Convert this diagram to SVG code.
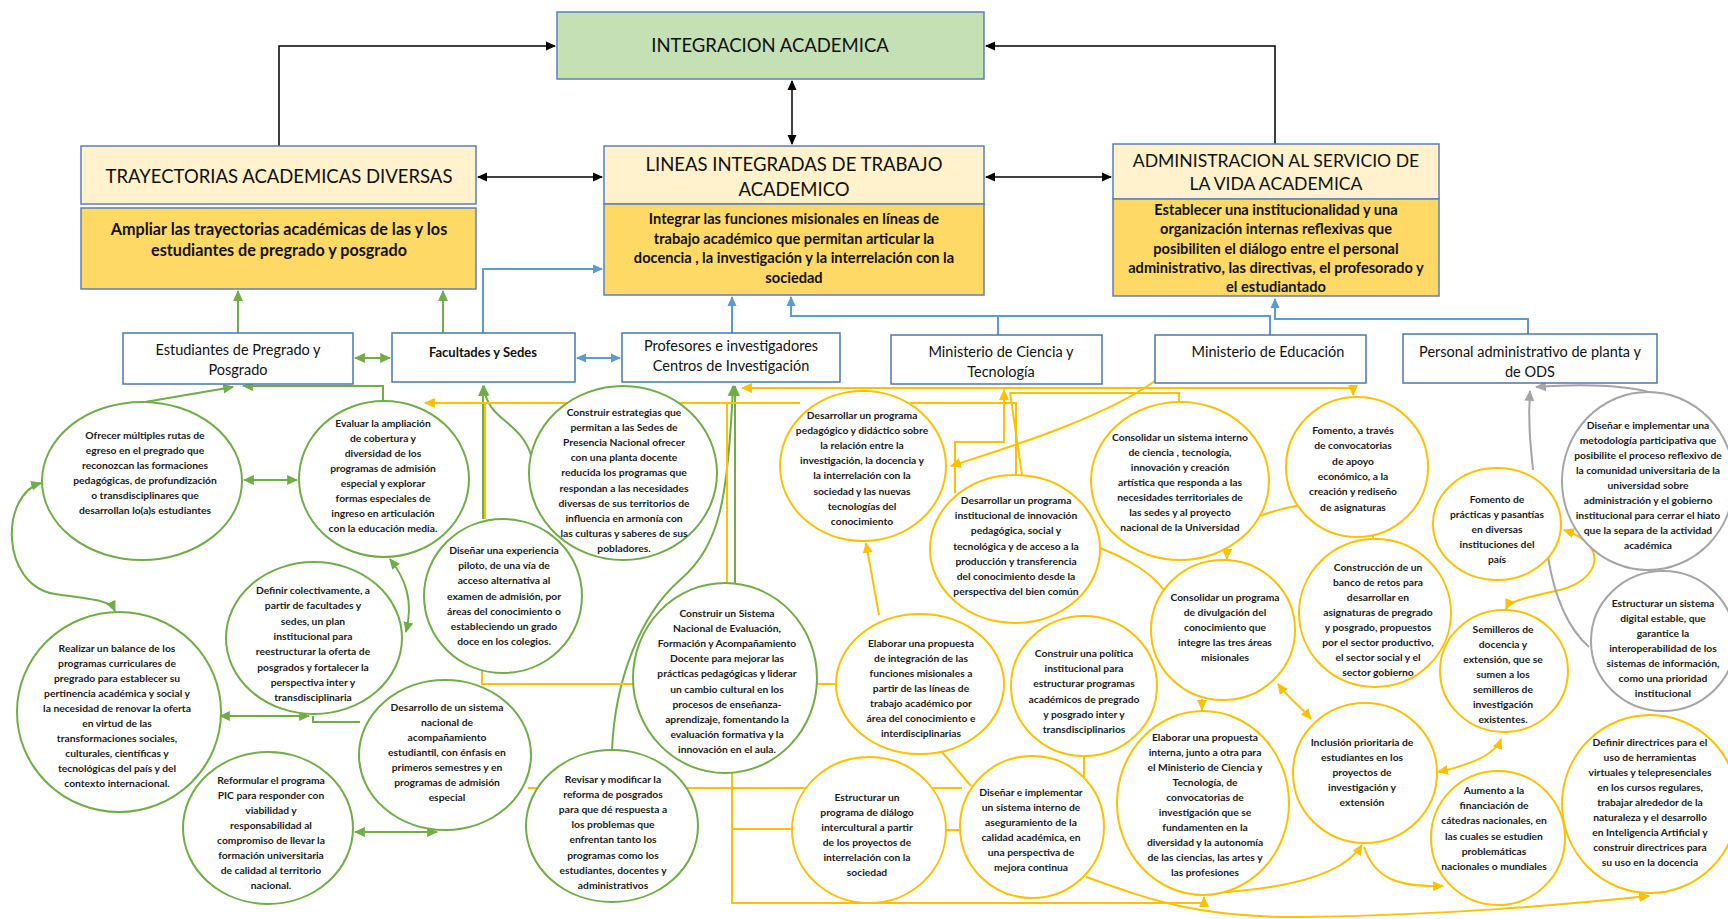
<svg xmlns="http://www.w3.org/2000/svg" width="1728" height="919" viewBox="0 0 1728 919">
<defs>
<marker id="ak" viewBox="0 0 10 10" refX="9" refY="5" markerWidth="10" markerHeight="10" markerUnits="userSpaceOnUse" orient="auto-start-reverse"><path d="M0,0.5 L10,5 L0,9.5 z" fill="#000"/></marker>
<marker id="ag" viewBox="0 0 10 10" refX="9" refY="5" markerWidth="11" markerHeight="11" markerUnits="userSpaceOnUse" orient="auto-start-reverse"><path d="M0,0.5 L10,5 L0,9.5 z" fill="#70AD47"/></marker>
<marker id="ay" viewBox="0 0 10 10" refX="9" refY="5" markerWidth="11" markerHeight="11" markerUnits="userSpaceOnUse" orient="auto-start-reverse"><path d="M0,0.5 L10,5 L0,9.5 z" fill="#FFC000"/></marker>
<marker id="ab" viewBox="0 0 10 10" refX="9" refY="5" markerWidth="10" markerHeight="10" markerUnits="userSpaceOnUse" orient="auto-start-reverse"><path d="M0,0.5 L10,5 L0,9.5 z" fill="#5B9BD5"/></marker>
<marker id="aa" viewBox="0 0 10 10" refX="9" refY="5" markerWidth="11" markerHeight="11" markerUnits="userSpaceOnUse" orient="auto-start-reverse"><path d="M0,0.5 L10,5 L0,9.5 z" fill="#A5A5A5"/></marker>
</defs>
<style>
.hd{fill:#FFF2CC;stroke:#5B80B8;stroke-width:1.5}
.sb{fill:#FFD966;stroke:#5B80B8;stroke-width:1.5}
.top{fill:#C5E0B4;stroke:#5B80B8;stroke-width:1.5}
.bx{fill:#fff;stroke:#4A78B0;stroke-width:1.5}
.cg{fill:#fff;stroke:#70AD47;stroke-width:2}
.cy{fill:#fff;stroke:#FFC000;stroke-width:2}
.ca{fill:#fff;stroke:#A5A5A5;stroke-width:2}
.ht{font-family:Lato,"Liberation Sans",sans-serif;font-size:18.5px;fill:#111;text-anchor:middle}
.st{font-family:Lato,"Liberation Sans",sans-serif;font-weight:700;font-size:14.6px;fill:#111;text-anchor:middle}
.bt{font-family:Lato,"Liberation Sans",sans-serif;font-size:14.5px;fill:#111;text-anchor:middle}
.ct{font-family:Lato,"Liberation Sans",sans-serif;font-weight:700;font-size:10.3px;fill:#1a1a1a;text-anchor:middle}
.lk{fill:none;stroke:#000;stroke-width:1.5}
.lb{fill:none;stroke:#5B9BD5;stroke-width:2}
.lg{fill:none;stroke:#70AD47;stroke-width:2}
.ly{fill:none;stroke:#FFC000;stroke-width:2}
.la{fill:none;stroke:#A5A5A5;stroke-width:2}
</style>

<g id="connectors">
<path class="lk" d="M279,146 V46 H555" marker-end="url(#ak)"/>
<path class="lk" d="M1275,144 V46 H986" marker-end="url(#ak)"/>
<path class="lk" d="M792,81 V144" marker-start="url(#ak)" marker-end="url(#ak)"/>
<path class="lk" d="M478,177 H602" marker-start="url(#ak)" marker-end="url(#ak)"/>
<path class="lk" d="M986,177 H1111" marker-start="url(#ak)" marker-end="url(#ak)"/>

<path class="lb" d="M483,333 V269 H602" marker-end="url(#ab)"/>
<path class="lb" d="M732,333 V297" marker-end="url(#ab)"/>
<path class="lb" d="M1270,335 V316 H791 V297" marker-end="url(#ab)"/>
<path class="lb" d="M998,335 V316"/>
<path class="lb" d="M1528,334 V319 H1275 V299" marker-end="url(#ab)"/>
<path class="lb" d="M577,358 H620" marker-start="url(#ab)" marker-end="url(#ab)"/>

<path class="lg" d="M238,333 V291" marker-end="url(#ag)"/>
<path class="lg" d="M443,333 V291" marker-end="url(#ag)"/>
<path class="lg" d="M355,358 H390" marker-start="url(#ag)" marker-end="url(#ag)"/>
<path class="lg" d="M145,402 L233,387" marker-end="url(#ag)"/>
<path class="lg" d="M383,401 V386 H243" marker-end="url(#ag)"/>
<path class="lg" d="M244,480 H297" marker-start="url(#ag)" marker-end="url(#ag)"/>
<path class="lg" d="M41,483 C0,495 0,585 55,594 C95,600 110,600 115,611" marker-start="url(#ag)" marker-end="url(#ag)"/>
<path class="lg" d="M390,559 C405,578 414,600 406,632" marker-start="url(#ag)" marker-end="url(#ag)"/>
<path class="lg" d="M220,716 H309" marker-start="url(#ag)" marker-end="url(#ag)"/>
<path class="lg" d="M313,716 V722 H360"/>
<path class="lg" d="M355,832 H437" marker-start="url(#ag)" marker-end="url(#ag)"/>
<path class="lg" d="M531,455 C520,420 486,420 484,386" marker-end="url(#ag)"/>
<path class="lg" d="M483,519 V386" marker-end="url(#ag)"/>
<path class="lg" d="M612,750 C615,680 640,615 680,580 C720,545 728,500 733,386" marker-end="url(#ag)"/>
<path class="lg" d="M735,583 V386" marker-end="url(#ag)"/>

<path class="ly" d="M800,403 H425" marker-end="url(#ay)"/>
<path class="ly" d="M485,403 V519"/>
<path class="ly" d="M727,583 V403"/>
<path class="ly" d="M742,388 H1353 V395" marker-start="url(#ay)" marker-end="url(#ay)"/>
<path class="ly" d="M910,403 H1016 V475"/>
<path class="ly" d="M1179,402 V393 H1010"/>
<path class="ly" d="M955,493 V442 H1004 V390" marker-end="url(#ay)"/>
<path class="ly" d="M1022,475 L1010,392"/>
<path class="ly" d="M1155,381 C1100,420 1000,450 951,466" marker-end="url(#ay)"/>
<path class="ly" d="M879,615 L866,543" marker-end="url(#ay)"/>
<path class="ly" d="M1227,548 V559" marker-end="url(#ay)"/>
<path class="ly" d="M1202,699 V710" marker-end="url(#ay)"/>
<path class="ly" d="M1100,548 C1130,560 1150,572 1164,590"/>
<path class="ly" d="M1257,517 C1270,512 1285,508 1300,505"/>
<path class="ly" d="M1373,536 V541"/>
<path class="ly" d="M1564,530 C1610,545 1600,580 1560,590 C1530,597 1510,600 1506,609" marker-start="url(#ay)" marker-end="url(#ay)"/>
<path class="ly" d="M1278,684 C1290,700 1300,706 1311,719" marker-start="url(#ay)" marker-end="url(#ay)"/>
<path class="ly" d="M1438,772 C1470,765 1495,755 1501,739" marker-start="url(#ay)" marker-end="url(#ay)"/>
<path class="ly" d="M1210,893 C1270,890 1340,880 1362,845" marker-end="url(#ay)"/>
<path class="ly" d="M1364,847 C1375,880 1400,887 1443,886" marker-end="url(#ay)"/>
<path class="ly" d="M1086,877 C1150,900 1200,918 1300,917 C1450,915 1560,905 1649,896" marker-end="url(#ay)"/>
<path class="ly" d="M732,773 V903 H1204 V897" marker-end="url(#ay)"/>
<path class="ly" d="M732,829 H792"/>
<path class="ly" d="M482,670 V684 H838"/>
<path class="ly" d="M528,788 H962"/>
<path class="ly" d="M942,752 L971,786"/>
<path class="ly" d="M946,830 H961"/>
<path class="ly" d="M1084,755 V777"/>

<path class="la" d="M1653,393 C1620,384 1580,384 1536,387" marker-end="url(#aa)"/>
<path class="la" d="M1533,470 C1530,440 1528,420 1530,391" marker-end="url(#aa)"/>
<path class="la" d="M1589,647 C1570,630 1555,600 1548,557"/>
</g>

<g id="integracion">
<rect class="top" x="557" y="12" width="427" height="67"/>
<text class="ht" x="770" y="52">INTEGRACION ACADEMICA</text>
</g>
<g id="trayectorias">
<rect class="hd" x="81" y="146" width="395" height="58"/>
<text class="ht" x="279" y="183">TRAYECTORIAS ACADEMICAS DIVERSAS</text>
<rect class="sb" x="81" y="208" width="395" height="81"/>
<text class="st" x="279" y="235" style="font-size:16.2px">Ampliar las trayectorias académicas de las y los<tspan x="279" dy="21">estudiantes de pregrado y posgrado</tspan></text>
</g>
<g id="lineas">
<rect class="hd" x="604" y="146" width="380" height="58"/>
<text class="ht" x="794" y="171">LINEAS INTEGRADAS DE TRABAJO<tspan x="794" dy="25">ACADEMICO</tspan></text>
<rect class="sb" x="604" y="204" width="380" height="91"/>
<text class="st" x="794" y="224">Integrar las funciones misionales en líneas de<tspan x="794" dy="19.5">trabajo académico que permitan articular la</tspan><tspan x="794" dy="19.5">docencia , la investigación  y la interrelación con la</tspan><tspan x="794" dy="19.5">sociedad</tspan></text>
</g>
<g id="administracion">
<rect class="hd" x="1113" y="144" width="326" height="55"/>
<text class="ht" x="1276" y="167" style="font-size:17.6px">ADMINISTRACION AL SERVICIO DE<tspan x="1276" dy="23">LA VIDA ACADEMICA</tspan></text>
<rect class="sb" x="1113" y="199" width="326" height="97"/>
<text class="st" x="1276" y="215">Establecer una institucionalidad y una<tspan x="1276" dy="19.3">organización internas reflexivas que</tspan><tspan x="1276" dy="19.3">posibiliten el diálogo entre el personal</tspan><tspan x="1276" dy="19.3">administrativo, las directivas, el profesorado y</tspan><tspan x="1276" dy="19.3">el estudiantado</tspan></text>
</g>

<g id="estudiantes"><rect class="bx" x="123" y="333" width="230" height="51"/><text class="bt" x="238" y="355">Estudiantes de Pregrado y<tspan x="238" dy="20">Posgrado</tspan></text></g>
<g id="facultades"><rect class="bx" x="392" y="333" width="183" height="49"/><text class="bt" x="483" y="357" style="font-size:13px;font-weight:700">Facultades y Sedes</text></g>
<g id="profesores"><rect class="bx" x="622" y="333" width="218" height="49"/><text class="bt" x="731" y="351">Profesores e investigadores<tspan x="731" dy="20">Centros de Investigación</tspan></text></g>
<g id="mciencia"><rect class="bx" x="891" y="335" width="211" height="49"/><text class="bt" x="1001" y="357">Ministerio de Ciencia y<tspan x="1001" dy="20">Tecnología</tspan></text></g>
<g id="meducacion"><rect class="bx" x="1155" y="335" width="211" height="48"/><text class="bt" x="1268" y="357">Ministerio de Educación</text></g>
<g id="personal"><rect class="bx" x="1403" y="334" width="254" height="49"/><text class="bt" x="1530" y="357">Personal administrativo de planta y<tspan x="1530" dy="20">de ODS</tspan></text></g>

<g id="c-ofrecer"><ellipse class="cg" cx="142" cy="481" rx="100" ry="79"/><text class="ct" x="145" y="439">Ofrecer múltiples rutas de<tspan x="145" dy="15">egreso en el pregrado que</tspan><tspan x="145" dy="15">reconozcan las formaciones</tspan><tspan x="145" dy="15">pedagógicas, de profundización</tspan><tspan x="145" dy="15">o transdisciplinares que</tspan><tspan x="145" dy="15">desarrollan lo(a)s estudiantes</tspan></text></g>
<g id="c-evaluar"><ellipse class="cg" cx="384" cy="479" rx="85" ry="78"/><text class="ct" x="383" y="427">Evaluar la ampliación<tspan x="383" dy="15">de cobertura y</tspan><tspan x="383" dy="15">diversidad de los</tspan><tspan x="383" dy="15">programas de admisión</tspan><tspan x="383" dy="15">especial y explorar</tspan><tspan x="383" dy="15">formas especiales de</tspan><tspan x="383" dy="15">ingreso en articulación</tspan><tspan x="383" dy="15">con la educación media.</tspan></text></g>
<g id="c-realizar"><ellipse class="cg" cx="119" cy="712" rx="102" ry="100"/><text class="ct" x="117" y="652">Realizar un balance de los<tspan x="117" dy="15">programas curriculares de</tspan><tspan x="117" dy="15">pregrado para establecer su</tspan><tspan x="117" dy="15">pertinencia académica y social y</tspan><tspan x="117" dy="15">la necesidad de renovar la oferta</tspan><tspan x="117" dy="15">en virtud de las</tspan><tspan x="117" dy="15">transformaciones sociales,</tspan><tspan x="117" dy="15">culturales, científicas y</tspan><tspan x="117" dy="15">tecnológicas del país y del</tspan><tspan x="117" dy="15">contexto internacional.</tspan></text></g>
<g id="c-definir"><ellipse class="cg" cx="314" cy="638" rx="88" ry="76"/><text class="ct" x="313" y="594">Definir colectivamente, a<tspan x="313" dy="15.3">partir de facultades y</tspan><tspan x="313" dy="15.3">sedes, un plan</tspan><tspan x="313" dy="15.3">institucional para</tspan><tspan x="313" dy="15.3">reestructurar la oferta de</tspan><tspan x="313" dy="15.3">posgrados y fortalecer la</tspan><tspan x="313" dy="15.3">perspectiva inter y</tspan><tspan x="313" dy="15.3">transdisciplinaria</tspan></text></g>
<g id="c-piloto"><ellipse class="cg" cx="503" cy="596" rx="79" ry="77"/><text class="ct" x="504" y="554">Diseñar una experiencia<tspan x="504" dy="15.2">piloto, de una vía de</tspan><tspan x="504" dy="15.2">acceso alternativa al</tspan><tspan x="504" dy="15.2">examen de admisión, por</tspan><tspan x="504" dy="15.2">áreas del conocimiento o</tspan><tspan x="504" dy="15.2">estableciendo un grado</tspan><tspan x="504" dy="15.2">doce en los colegios.</tspan></text></g>
<g id="c-sedes"><ellipse class="cg" cx="623" cy="473" rx="94" ry="87"/><text class="ct" x="624" y="416">Construir estrategias que<tspan x="624" dy="15.1">permitan a las Sedes de</tspan><tspan x="624" dy="15.1">Presencia Nacional ofrecer</tspan><tspan x="624" dy="15.1">con una planta docente</tspan><tspan x="624" dy="15.1">reducida los programas que</tspan><tspan x="624" dy="15.1">respondan a las necesidades</tspan><tspan x="624" dy="15.1">diversas de sus territorios de</tspan><tspan x="624" dy="15.1">influencia en armonía con</tspan><tspan x="624" dy="15.1">las culturas y saberes de sus</tspan><tspan x="624" dy="15.1">pobladores.</tspan></text></g>
<g id="c-sistema-docente"><ellipse class="cg" cx="725" cy="678" rx="92" ry="95"/><text class="ct" x="727" y="617">Construir un Sistema<tspan x="727" dy="15.1">Nacional de Evaluación,</tspan><tspan x="727" dy="15.1">Formación y Acompañamiento</tspan><tspan x="727" dy="15.1">Docente para mejorar las</tspan><tspan x="727" dy="15.1">prácticas pedagógicas y liderar</tspan><tspan x="727" dy="15.1">un cambio cultural en los</tspan><tspan x="727" dy="15.1">procesos de enseñanza-</tspan><tspan x="727" dy="15.1">aprendizaje, fomentando la</tspan><tspan x="727" dy="15.1">evaluación formativa y la</tspan><tspan x="727" dy="15.1">innovación en el aula.</tspan></text></g>
<g id="c-desarrollo"><ellipse class="cg" cx="445" cy="755" rx="86" ry="75"/><text class="ct" x="447" y="711">Desarrollo de un sistema<tspan x="447" dy="15">nacional de</tspan><tspan x="447" dy="15">acompañamiento</tspan><tspan x="447" dy="15">estudiantil, con énfasis en</tspan><tspan x="447" dy="15">primeros semestres y en</tspan><tspan x="447" dy="15">programas de admisión</tspan><tspan x="447" dy="15">especial</tspan></text></g>
<g id="c-pic"><ellipse class="cg" cx="268" cy="828" rx="85" ry="76"/><text class="ct" x="271" y="784">Reformular el programa<tspan x="271" dy="15">PIC para responder con</tspan><tspan x="271" dy="15">viabilidad y</tspan><tspan x="271" dy="15">responsabilidad al</tspan><tspan x="271" dy="15">compromiso de llevar la</tspan><tspan x="271" dy="15">formación universitaria</tspan><tspan x="271" dy="15">de calidad al territorio</tspan><tspan x="271" dy="15">nacional.</tspan></text></g>
<g id="c-revisar"><ellipse class="cg" cx="612" cy="826" rx="86" ry="76"/><text class="ct" x="613" y="783">Revisar y modificar la<tspan x="613" dy="15.1">reforma de posgrados</tspan><tspan x="613" dy="15.1">para que dé respuesta a</tspan><tspan x="613" dy="15.1">los problemas que</tspan><tspan x="613" dy="15.1">enfrentan tanto los</tspan><tspan x="613" dy="15.1">programas como los</tspan><tspan x="613" dy="15.1">estudiantes, docentes y</tspan><tspan x="613" dy="15.1">administrativos</tspan></text></g>

<g id="y-pedagogico"><ellipse class="cy" cx="863" cy="466" rx="83" ry="75"/><text class="ct" x="862" y="419">Desarrollar un programa<tspan x="862" dy="15.1">pedagógico y didáctico sobre</tspan><tspan x="862" dy="15.1">la relación entre la</tspan><tspan x="862" dy="15.1">investigación, la docencia y</tspan><tspan x="862" dy="15.1">la interrelación con la</tspan><tspan x="862" dy="15.1">sociedad y las nuevas</tspan><tspan x="862" dy="15.1">tecnologías del</tspan><tspan x="862" dy="15.1">conocimiento</tspan></text></g>
<g id="y-innovacion"><ellipse class="cy" cx="1015" cy="549" rx="85" ry="74"/><text class="ct" x="1016" y="504">Desarrollar un programa<tspan x="1016" dy="15.2">institucional de innovación</tspan><tspan x="1016" dy="15.2">pedagógica, social y</tspan><tspan x="1016" dy="15.2">tecnológica y de acceso a la</tspan><tspan x="1016" dy="15.2">producción y transferencia</tspan><tspan x="1016" dy="15.2">del conocimiento desde la</tspan><tspan x="1016" dy="15.2">perspectiva del bien común</tspan></text></g>
<g id="y-ciencia"><ellipse class="cy" cx="1180" cy="481" rx="89" ry="79"/><text class="ct" x="1180" y="441">Consolidar un sistema interno<tspan x="1180" dy="15">de ciencia , tecnología,</tspan><tspan x="1180" dy="15">innovación  y creación</tspan><tspan x="1180" dy="15">artística que responda a las</tspan><tspan x="1180" dy="15">necesidades territoriales de</tspan><tspan x="1180" dy="15">las sedes y al proyecto</tspan><tspan x="1180" dy="15">nacional de la Universidad</tspan></text></g>
<g id="y-fomento"><ellipse class="cy" cx="1357" cy="467" rx="71" ry="70"/><text class="ct" x="1353" y="434">Fomento, a través<tspan x="1353" dy="15.3">de convocatorias</tspan><tspan x="1353" dy="15.3">de apoyo</tspan><tspan x="1353" dy="15.3">económico, a la</tspan><tspan x="1353" dy="15.3">creación y rediseño</tspan><tspan x="1353" dy="15.3">de asignaturas</tspan></text></g>
<g id="y-retos"><ellipse class="cy" cx="1375" cy="613" rx="76" ry="74"/><text class="ct" x="1378" y="571">Construcción de un<tspan x="1378" dy="15">banco de retos para</tspan><tspan x="1378" dy="15">desarrollar en</tspan><tspan x="1378" dy="15">asignaturas de pregrado</tspan><tspan x="1378" dy="15">y posgrado, propuestos</tspan><tspan x="1378" dy="15">por el sector productivo,</tspan><tspan x="1378" dy="15">el sector social y el</tspan><tspan x="1378" dy="15">sector gobierno</tspan></text></g>
<g id="y-practicas"><ellipse class="cy" cx="1497" cy="524" rx="64" ry="56"/><text class="ct" x="1497" y="503">Fomento de<tspan x="1497" dy="15">prácticas y pasantías</tspan><tspan x="1497" dy="15">en diversas</tspan><tspan x="1497" dy="15">instituciones del</tspan><tspan x="1497" dy="15">país</tspan></text></g>
<g id="y-semilleros"><ellipse class="cy" cx="1504" cy="671" rx="64" ry="61"/><text class="ct" x="1503" y="633">Semilleros de<tspan x="1503" dy="15">docencia y</tspan><tspan x="1503" dy="15">extensión, que se</tspan><tspan x="1503" dy="15">sumen a los</tspan><tspan x="1503" dy="15">semilleros de</tspan><tspan x="1503" dy="15">investigación</tspan><tspan x="1503" dy="15">existentes.</tspan></text></g>
<g id="y-divulgacion"><ellipse class="cy" cx="1223" cy="630" rx="72" ry="70"/><text class="ct" x="1225" y="601">Consolidar un programa<tspan x="1225" dy="15">de divulgación del</tspan><tspan x="1225" dy="15">conocimiento que</tspan><tspan x="1225" dy="15">integre las tres áreas</tspan><tspan x="1225" dy="15">misionales</tspan></text></g>
<g id="y-propuesta-interna"><ellipse class="cy" cx="1203" cy="803" rx="86" ry="92"/><text class="ct" x="1205" y="741">Elaborar una propuesta<tspan x="1205" dy="15">interna, junto a otra para</tspan><tspan x="1205" dy="15">el Ministerio de Ciencia y</tspan><tspan x="1205" dy="15">Tecnología, de</tspan><tspan x="1205" dy="15">convocatorias de</tspan><tspan x="1205" dy="15">investigación  que se</tspan><tspan x="1205" dy="15">fundamenten en la</tspan><tspan x="1205" dy="15">diversidad y la autonomía</tspan><tspan x="1205" dy="15">de las ciencias, las artes y</tspan><tspan x="1205" dy="15">las profesiones</tspan></text></g>
<g id="y-inclusion"><ellipse class="cy" cx="1365" cy="773" rx="72" ry="70"/><text class="ct" x="1362" y="746">Inclusión prioritaria de<tspan x="1362" dy="15">estudiantes en los</tspan><tspan x="1362" dy="15">proyectos de</tspan><tspan x="1362" dy="15">investigación y</tspan><tspan x="1362" dy="15">extensión</tspan></text></g>
<g id="y-catedras"><ellipse class="cy" cx="1498" cy="838" rx="67" ry="67"/><text class="ct" x="1494" y="794">Aumento a la<tspan x="1494" dy="15.2">financiación de</tspan><tspan x="1494" dy="15.2">cátedras nacionales, en</tspan><tspan x="1494" dy="15.2">las cuales se estudien</tspan><tspan x="1494" dy="15.2">problemáticas</tspan><tspan x="1494" dy="15.2">nacionales o mundiales</tspan></text></g>
<g id="y-directrices"><ellipse class="cy" cx="1650" cy="804" rx="88" ry="89"/><text class="ct" x="1650" y="746">Definir directrices para el<tspan x="1650" dy="15">uso de herramientas</tspan><tspan x="1650" dy="15">virtuales y telepresenciales</tspan><tspan x="1650" dy="15">en los cursos regulares,</tspan><tspan x="1650" dy="15">trabajar alrededor de la</tspan><tspan x="1650" dy="15">naturaleza y el desarrollo</tspan><tspan x="1650" dy="15">en Inteligencia Artificial y</tspan><tspan x="1650" dy="15">construir directrices para</tspan><tspan x="1650" dy="15">su uso en la docencia</tspan></text></g>
<g id="y-politica"><ellipse class="cy" cx="1084" cy="686" rx="73" ry="70"/><text class="ct" x="1084" y="657">Construir una política<tspan x="1084" dy="15.2">institucional para</tspan><tspan x="1084" dy="15.2">estructurar programas</tspan><tspan x="1084" dy="15.2">académicos de pregrado</tspan><tspan x="1084" dy="15.2">y posgrado inter y</tspan><tspan x="1084" dy="15.2">transdisciplinarios</tspan></text></g>
<g id="y-integracion"><ellipse class="cy" cx="920" cy="684" rx="84" ry="70"/><text class="ct" x="921" y="647">Elaborar una propuesta<tspan x="921" dy="15">de integración de las</tspan><tspan x="921" dy="15">funciones misionales a</tspan><tspan x="921" dy="15">partir de las líneas de</tspan><tspan x="921" dy="15">trabajo académico por</tspan><tspan x="921" dy="15">área del conocimiento e</tspan><tspan x="921" dy="15">interdisciplinarias</tspan></text></g>
<g id="y-intercultural"><ellipse class="cy" cx="869" cy="830" rx="77" ry="73"/><text class="ct" x="867" y="801">Estructurar un<tspan x="867" dy="15">programa de diálogo</tspan><tspan x="867" dy="15">intercultural a partir</tspan><tspan x="867" dy="15">de los proyectos de</tspan><tspan x="867" dy="15">interrelación con la</tspan><tspan x="867" dy="15">sociedad</tspan></text></g>
<g id="y-calidad"><ellipse class="cy" cx="1032" cy="827" rx="72" ry="71"/><text class="ct" x="1031" y="796">Diseñar e implementar<tspan x="1031" dy="15">un sistema interno de</tspan><tspan x="1031" dy="15">aseguramiento de la</tspan><tspan x="1031" dy="15">calidad académica, en</tspan><tspan x="1031" dy="15">una perspectiva de</tspan><tspan x="1031" dy="15">mejora continua</tspan></text></g>

<g id="a-metodologia"><ellipse class="ca" cx="1648" cy="481" rx="86" ry="89"/><text class="ct" x="1648" y="429">Diseñar e implementar una<tspan x="1648" dy="15">metodología participativa que</tspan><tspan x="1648" dy="15">posibilite el proceso reflexivo de</tspan><tspan x="1648" dy="15">la comunidad universitaria de la</tspan><tspan x="1648" dy="15">universidad sobre</tspan><tspan x="1648" dy="15">administración y el gobierno</tspan><tspan x="1648" dy="15">institucional para cerrar el hiato</tspan><tspan x="1648" dy="15">que la separa de la actividad</tspan><tspan x="1648" dy="15">académica</tspan></text></g>
<g id="a-digital"><ellipse class="ca" cx="1663" cy="641" rx="72" ry="70"/><text class="ct" x="1663" y="607">Estructurar un sistema<tspan x="1663" dy="15">digital estable, que</tspan><tspan x="1663" dy="15">garantice la</tspan><tspan x="1663" dy="15">interoperabilidad de los</tspan><tspan x="1663" dy="15">sistemas de información,</tspan><tspan x="1663" dy="15">como una prioridad</tspan><tspan x="1663" dy="15">institucional</tspan></text></g>
</svg>
